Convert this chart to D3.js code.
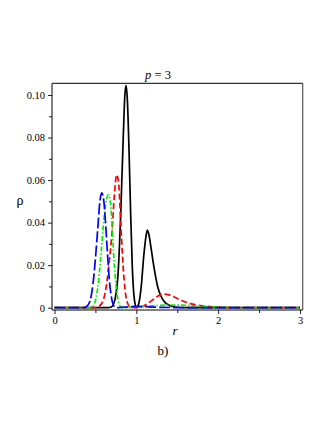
<!DOCTYPE html>
<html>
<head>
<meta charset="utf-8">
<script src="https://cdn.jsdelivr.net/npm/d3@7"></script>
<style>
  body { margin: 0; background: #fff; }
  svg text { font-family: "Liberation Serif", "DejaVu Serif", serif; fill: #000; }
</style>
</head>
<body>
<svg width="327" height="423"></svg>
<script>
// values: [r, rho]
const blackSolid = [[0,0],[0.65,0],[0.70,0.0005],[0.74,0.004],[0.78,0.018],[0.81,0.045],[0.84,0.080],[0.86,0.100],[0.875,0.1045],[0.89,0.098],[0.91,0.075],[0.93,0.045],[0.95,0.020],[0.97,0.006],[0.99,0.0008],[1.0,0],[1.03,0.002],[1.06,0.010],[1.09,0.024],[1.12,0.034],[1.135,0.0365],[1.15,0.035],[1.18,0.028],[1.22,0.018],[1.26,0.010],[1.30,0.0055],[1.35,0.0025],[1.42,0.0008],[1.5,0.0002],[1.6,0],[3,0]];
const redDash = [[0,0],[0.5,0],[0.55,0.0008],[0.6,0.004],[0.64,0.012],[0.67,0.022],[0.70,0.034],[0.73,0.052],[0.76,0.0625],[0.785,0.058],[0.80,0.048],[0.82,0.032],[0.845,0.016],[0.87,0.006],[0.90,0.0015],[0.93,0.0002],[0.97,0],[1.03,0.0001],[1.08,0.0006],[1.14,0.002],[1.2,0.0037],[1.26,0.0054],[1.33,0.0064],[1.4,0.006],[1.48,0.0047],[1.56,0.0033],[1.66,0.0019],[1.78,0.001],[1.9,0.0005],[2.05,0.0002],[2.3,0],[3,0]];
const greenDashDot = [[0,0],[0.42,0],[0.47,0.0008],[0.51,0.005],[0.54,0.013],[0.57,0.026],[0.60,0.040],[0.63,0.050],[0.66,0.053],[0.685,0.049],[0.70,0.041],[0.72,0.027],[0.745,0.013],[0.77,0.005],[0.80,0.0008],[0.83,0],[0.9,0.0001],[1.0,0.0004],[1.2,0.0009],[1.4,0.0012],[1.55,0.0012],[1.7,0.0009],[1.9,0.0005],[2.1,0.0002],[2.4,0],[3,0]];
const blueLongDash = [[0,0],[0.35,0],[0.40,0.0008],[0.44,0.004],[0.47,0.011],[0.50,0.023],[0.53,0.038],[0.555,0.050],[0.577,0.054],[0.60,0.051],[0.62,0.042],[0.645,0.027],[0.67,0.013],[0.70,0.004],[0.73,0.0006],[0.76,0],[0.8,0.0001],[0.9,0.0004],[1.0,0.0006],[1.1,0.0005],[1.2,0.0003],[1.4,0.0001],[1.6,0],[3,0]];

const xTicks = [0, 1, 2, 3];
const xMinor = [0.5, 1.5, 2.5];
const yTicks = [0, 0.02, 0.04, 0.06, 0.08, 0.10];
const yMinor = [0.01, 0.03, 0.05, 0.07, 0.09];

const svg = d3.select('svg');

const x = d3.scaleLinear().domain([0, 3]).range([54.5, 300]);
const y = d3.scaleLinear().domain([0, 0.1055]).range([307.7, 83.3]);

const boxL = 52, boxR = 302.7, boxT = 83.3, boxB = 310;

// box
svg.append('line').attr('x1', boxL).attr('x2', boxR).attr('y1', boxT).attr('y2', boxT)
    .attr('stroke', '#000').attr('stroke-width', 1);
svg.append('line').attr('x1', boxR).attr('x2', boxR).attr('y1', boxT).attr('y2', boxB)
    .attr('stroke', '#555').attr('stroke-width', 1.2);

const series = [
    { data: blackSolid, color: '#000', dash: null },
    { data: redDash, color: '#ff0000', dash: '6 3' },
    { data: greenDashDot, color: '#00ee00', dash: '5 2 1.5 2' },
    { data: blueLongDash, color: '#0000ff', dash: '11 3' }
];

const line = d3.line()
    .x(d => x(d[0]))
    .y(d => y(d[1]))
    .curve(d3.curveMonotoneX);

svg.append('g').selectAll('path')
    .data(series)
    .join('path')
    .attr('d', s => line(s.data))
    .attr('fill', 'none')
    .attr('stroke', s => s.color)
    .attr('stroke-width', 1.7)
    .attr('stroke-dasharray', s => s.dash);

// axes
svg.append('g').attr('transform', `translate(${boxL},0)`)
    .call(d3.axisLeft(y).tickValues(yTicks).tickSize(4).tickPadding(3)
        .tickFormat(d => d === 0 ? '0' : d3.format('.2f')(d)));
svg.append('g').attr('transform', `translate(${boxL},0)`)
    .call(d3.axisLeft(y).tickValues(yMinor).tickSize(3).tickFormat(''));

svg.append('g').attr('transform', `translate(0,${boxB})`)
    .call(d3.axisBottom(x).tickValues(xTicks).tickSize(4).tickPadding(3).tickFormat(d3.format('d')));
svg.append('g').attr('transform', `translate(0,${boxB})`)
    .call(d3.axisBottom(x).tickValues(xMinor).tickSize(3).tickFormat(''));

svg.selectAll('.domain').remove();
svg.append('line').attr('x1', boxL).attr('x2', boxL).attr('y1', boxT).attr('y2', boxB)
    .attr('stroke', '#000');
svg.append('line').attr('x1', boxL).attr('x2', boxR).attr('y1', boxB).attr('y2', boxB)
    .attr('stroke', '#000');

svg.selectAll('.tick line').attr('stroke', '#222');
svg.selectAll('.tick text')
    .attr('fill', '#000')
    .style('font-family', '"Liberation Serif", serif')
    .style('font-size', '10.5px');

// labels
const title = svg.append('text').attr('x', 158).attr('y', 79).attr('text-anchor', 'middle')
    .style('font-size', '12.5px');
title.append('tspan').style('font-style', 'italic').text('p');
title.append('tspan').text(' = 3');

svg.append('text').attr('x', 20).attr('y', 205).attr('text-anchor', 'middle')
    .style('font-size', '14px').text('ρ');
svg.append('text').attr('x', 175).attr('y', 335).attr('text-anchor', 'middle')
    .style('font-size', '13px').style('font-style', 'italic').text('r');
svg.append('text').attr('x', 163).attr('y', 355).attr('text-anchor', 'middle')
    .style('font-size', '13px').text('b)');
</script>
</body>
</html>
